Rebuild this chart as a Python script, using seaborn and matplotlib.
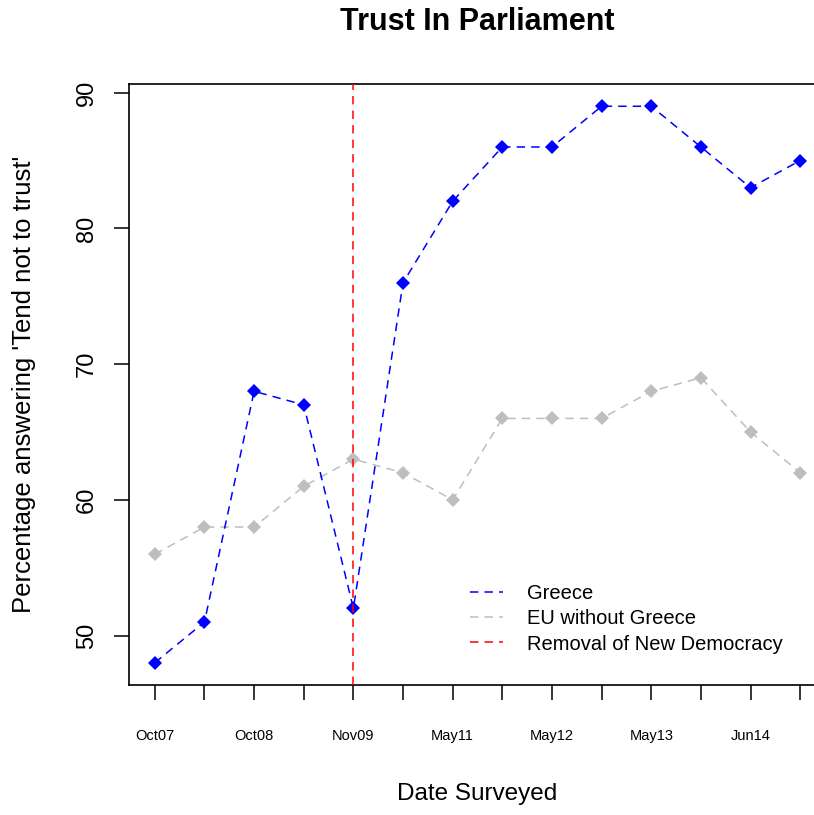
import matplotlib
matplotlib.use("Agg")
import matplotlib.pyplot as plt
from matplotlib.lines import Line2D
import seaborn as sns
import pandas as pd
import numpy as np

# ---- data ----
survey_idx = list(range(1, 15))
tick_labels = ["Oct07", "", "Oct08", "", "Nov09", "", "May11", "", "May12", "", "May13", "", "Jun14", ""]
greece = [48, 51, 68, 67, 52, 76, 82, 86, 86, 89, 89, 86, 83, 85]
eu_without_greece = [56, 58, 58, 61, 63, 62, 60, 66, 66, 66, 68, 69, 65, 62]
removal_idx = 5
series_names = ["Greece", "EU without Greece", "Removal of New Democracy"]
series_colors = ["#0000FF", "#BEBEBE", "#FF0000"]

df = pd.DataFrame({"idx": survey_idx, "Greece": greece, "EU": eu_without_greece})

sns.set_theme(style="white")
plt.rcParams["font.family"] = ["Liberation Sans", "DejaVu Sans"]
plt.rcParams["text.color"] = "black"
plt.rcParams["xtick.color"] = "black"
plt.rcParams["ytick.color"] = "black"
plt.rcParams["axes.labelcolor"] = "black"

W, H = 814, 815
fig = plt.figure(figsize=(W / 100, H / 100), dpi=100)
ax = fig.add_axes([129 / W, (H - 685) / H, (826 - 129) / W, (685 - 84) / H])

DASH = (5.5, 4)
LW = 1.1

sns.lineplot(data=df, x="idx", y="EU", ax=ax, color=series_colors[1], marker="D",
             markersize=6.8, markeredgewidth=0, linewidth=LW, zorder=3)
sns.lineplot(data=df, x="idx", y="Greece", ax=ax, color=series_colors[0], marker="D",
             markersize=6.8, markeredgewidth=0, linewidth=LW, zorder=4)
for ln in ax.lines:
    ln.set_dashes(DASH)

ax.axvline(removal_idx, color=series_colors[2], linewidth=LW, dashes=DASH, zorder=5)

ax.set_xlim(0.48, 14.52)
ax.set_ylim(46.36, 90.64)
ax.set_xticks(survey_idx)
ax.set_xticklabels(tick_labels, fontsize=10.5, color="black")
ax.set_yticks([50, 60, 70, 80, 90])
ax.set_yticklabels(["50", "60", "70", "80", "90"], fontsize=17, rotation=90, va="center",
                   color="black")
ax.tick_params(axis="x", length=10.5, width=1.1, color="black", pad=21.5, direction="out", bottom=True)
ax.tick_params(axis="y", length=10.5, width=1.1, color="black", pad=12, direction="out", left=True)
ax.set_xlabel("")
ax.set_ylabel("")
for s in ax.spines.values():
    s.set_color("black")
    s.set_linewidth(1.2)
ax.grid(False)

fig.text(477 / W, 1 - 22 / H, "Trust In Parliament", ha="center", va="center",
         fontsize=22, fontweight="bold", color="black")
fig.text(477 / W, 1 - 794 / H, "Date Surveyed", ha="center", va="center", fontsize=17.5,
         color="black")
fig.text(24 / W, 1 - 384 / H, "Percentage answering 'Tend not to trust'", ha="center",
         va="center", rotation=90, fontsize=18.5, color="black")

handles = [Line2D([0], [0], color=c, linewidth=LW, dashes=DASH) for c in series_colors]
leg = ax.legend(handles, series_names, loc="center left",
                bbox_to_anchor=(470 / W, 1 - 619 / H), bbox_transform=fig.transFigure,
                frameon=False, fontsize=14.5, handlelength=1.65, handletextpad=1.2,
                labelspacing=0.3, borderpad=0, borderaxespad=0)
for t in leg.get_texts():
    t.set_color("black")

fig.savefig("out.png", dpi=100)
